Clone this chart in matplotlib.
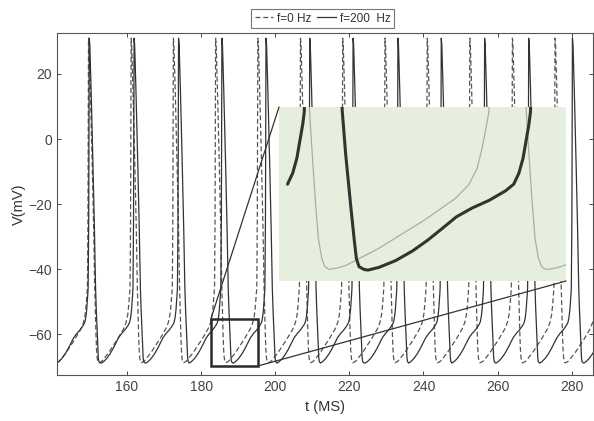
import numpy as np
import matplotlib
matplotlib.use("Agg")
import matplotlib.pyplot as plt
from matplotlib.patches import Rectangle, ConnectionPatch

plt.rcParams['font.family'] = ['Liberation Sans', 'DejaVu Sans']

# spike peak times (ms); last entry is the next spike past the right edge
peaks_0hz = [149.6, 161.1, 172.5, 183.9, 195.3, 206.8, 218.2, 229.6, 241.0, 252.5, 264.0, 275.5, 287.0]
peaks_200hz = [149.8, 161.9, 173.9, 185.6, 197.5, 209.3, 221.0, 233.1, 244.8, 256.5, 268.4, 280.2, 292.1]

# spike shape: falling phase (ms after peak, mV)
fall0_t = [0, 0.15, 0.5, 1.0, 1.4, 1.68, 1.82, 2.0, 2.14, 2.32, 2.49, 2.7]
fall0_v = [31, 29, 15, -8, -28, -45.7, -52.0, -59.4, -64.25, -67.2, -68.4, -68.8]
fall200_t = [0, 0.15, 0.5, 1.0, 1.4, 1.7, 1.88, 2.14, 2.32, 2.44, 2.58, 2.84]
fall200_v = [31, 29, 15, -8, -28, -45.7, -52.0, -59.4, -64.25, -67.2, -68.4, -68.8]

# slow ramp up to the next spike (ms before peak, mV)
ramp0_t = [-8.6, -8.2, -7.8, -6.07, -3.7, -2.92, -2.05, -1.35, -0.91, -0.65, -0.44, -0.29, -0.15, -0.06, 0]
ramp0_v = [-68.75, -68.55, -68.2, -65.7, -61.6, -60.1, -58.4, -56.4, -54.0, -51.1, -48.1, -45.7, -25, 5, 31]
ramp200_t = [-8.85, -8.27, -7.39, -6.51, -5.7, -4.9, -4.2, -3.37, -2.49, -1.62, -1.18,
             -0.91, -0.69, -0.51, -0.38, -0.3, -0.15, -0.06, 0]
ramp200_v = [-68.9, -68.5, -67.5, -66.1, -64.5, -62.7, -61.1, -59.8, -58.7, -57.3, -56.3,
             -54.7, -52.5, -49.6, -47.5, -45.7, -25, 5, 31]


def build_trace(peaks, fall_t, fall_v, ramp_t, ramp_v):
    t, v = [], []
    for i, tn in enumerate(peaks):
        if i > 0:
            tp = peaks[i - 1]
            for dt, vv in zip(fall_t[1:], fall_v[1:]):
                t.append(tp + dt)
                v.append(vv)
        for dt, vv in zip(ramp_t, ramp_v):
            t.append(tn + dt)
            v.append(vv)
    return np.array(t), np.array(v)


t0, v0 = build_trace(peaks_0hz, fall0_t, fall0_v, ramp0_t, ramp0_v)
t200, v200 = build_trace(peaks_200hz, fall200_t, fall200_v, ramp200_t, ramp200_v)

fig = plt.figure(figsize=(5.94, 4.21), dpi=100)
ax = fig.add_axes([0.096, 0.109, 0.902, 0.8126])

l0, = ax.plot(t0, v0, color='#555555', lw=0.9, dashes=(4, 2.2), label='f=0 Hz')
l200, = ax.plot(t200, v200, color='#333333', lw=0.9, label='f=200  Hz')

ax.set_xlim(141.1, 285.7)
ax.set_ylim(-72.6, 32.6)
ax.set_xticks([160, 180, 200, 220, 240, 260, 280])
ax.set_yticks([-60, -40, -20, 0, 20])
ax.tick_params(direction='in', top=True, right=True, length=3, width=0.7,
               labelsize=10, colors='#444444')
for s in ax.spines.values():
    s.set_color('#555555')
    s.set_linewidth(0.8)
ax.set_xlabel('t (MS)', fontsize=10.5, color='#333333', labelpad=4)
ax.set_ylabel('V(mV)', fontsize=10.5, color='#333333', labelpad=2)

# zoom box and connectors
box_x0, box_x1, box_y0, box_y1 = 182.6, 195.3, -69.8, -55.4
ax.add_patch(Rectangle((box_x0, box_y0), box_x1 - box_x0, box_y1 - box_y0,
                       fill=False, ec='#2a2a2a', lw=1.8, zorder=5))

axins = fig.add_axes([0.4697, 0.3325, 0.4832, 0.4133])
axins.set_facecolor('#e6efdd')
axins.plot(t0, v0, color='#a9aea5', lw=0.9, solid_joinstyle='round')
keep = t200 >= 184.4
axins.plot(t200[keep], v200[keep], color='#2f362f', lw=2.2,
           solid_joinstyle='round', solid_capstyle='round')
axins.set_xlim(183.97, 199.07)
axins.set_ylim(-70.5, -45)
axins.set_xticks([])
axins.set_yticks([])
for s in axins.spines.values():
    s.set_visible(False)

for (xa, ya), (xb, yb) in [((box_x0, box_y1), (0, 1)), ((box_x1, box_y0), (1, 0))]:
    con = ConnectionPatch(xyA=(xa, ya), coordsA=ax.transData,
                          xyB=(xb, yb), coordsB=axins.transAxes,
                          color='#333333', lw=0.9)
    fig.add_artist(con)

leg = fig.legend(handles=[l0, l200], loc='center', bbox_to_anchor=(0.543, 0.956),
                 ncol=2, fontsize=8.5, fancybox=False, edgecolor='#777777',
                 handlelength=1.6, handletextpad=0.3, columnspacing=0.5,
                 borderpad=0.3, framealpha=1)
leg.get_frame().set_linewidth(0.8)
for txt in leg.get_texts():
    txt.set_color('#333333')

fig.savefig('out.png', dpi=100, facecolor='white')
